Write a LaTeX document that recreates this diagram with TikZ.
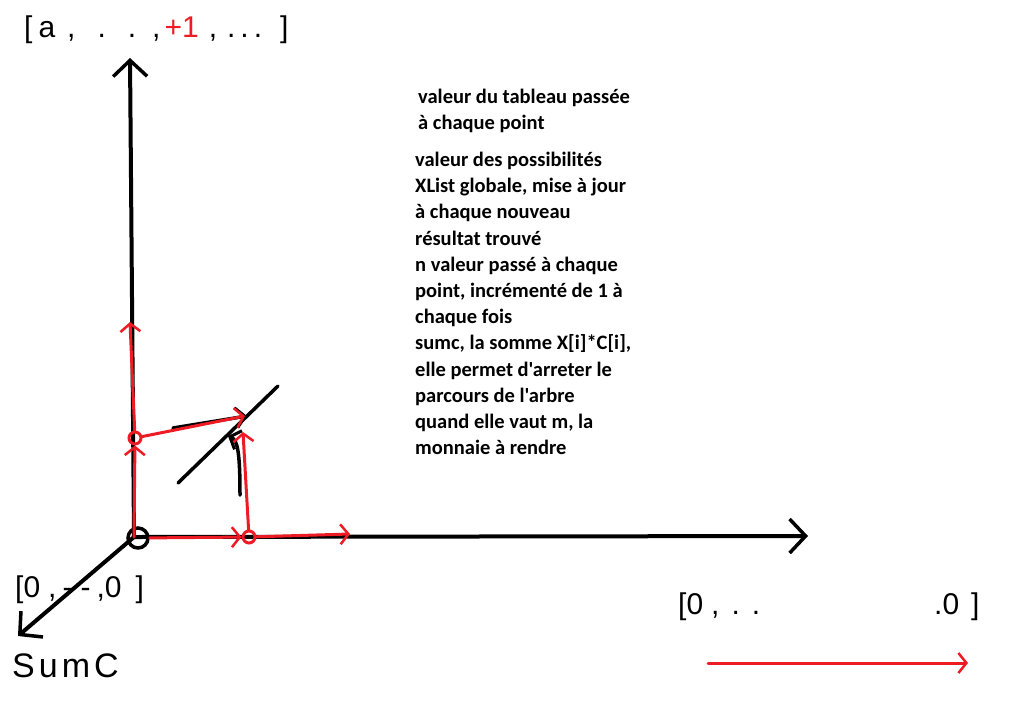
\documentclass[tikz,border=0pt]{standalone}
\usepackage{fontspec}
\setmainfont{Carlito}
\newfontfamily\notefont{Carlito}[Ligatures=TeXOff]
\newfontfamily\handfont{Liberation Sans}[Ligatures=TeXOff]
\usetikzlibrary{arrows.meta}
\definecolor{paintred}{RGB}{237,28,36}
\begin{document}
\begin{tikzpicture}[x=1pt,y=-1pt,
  axis/.style={line width=4pt,line cap=round,-{Straight Barb[length=16pt,width=34pt,line width=3.5pt]}},
  blk/.style={line width=3.5pt,line cap=round},
  blkarrow/.style={blk,-{Straight Barb[length=9pt,width=20pt,line width=3pt]}},
  redline/.style={paintred,line width=3pt,line cap=round},
  redarrow/.style={redline,-{Straight Barb[length=8pt,width=20pt,line width=2.5pt]}},
  redcirc/.style={circle,draw=paintred,line width=3pt,minimum size=12pt,inner sep=0pt},
  note/.style={font=\notefont\bfseries\fontsize{20.5}{26.2}\selectfont,align=left,inner sep=0pt},
  hand/.style={font=\handfont\fontsize{30}{30}\selectfont,inner sep=0pt}]
\useasboundingbox (0,0) rectangle (1011,721);
% axes
\coordinate (O) at (134,537);
\coordinate (Ytop) at (130,58);
\coordinate (Xend) at (808,536);
\coordinate (Zend) at (18,636);
\draw[axis] (O) -- (Ytop);
\draw[axis] (O) -- (Xend);
\draw[axis] (O) -- (Zend);
\node[circle,draw,line width=3.5pt,minimum size=20pt,inner sep=0pt] (orig) at (138,538) {};
% small diagonal and black arrows
\coordinate (d1) at (178,483);
\coordinate (d2) at (278,386);
\draw[blk] (d1) -- (d2);
\coordinate (ba1s) at (173,428);
\coordinate (ba1e) at (247,416);
\draw[blkarrow] (ba1s) -- (ba1e);
\coordinate (ba2s) at (240,495);
\coordinate (ba2e) at (228,436);
\draw[blkarrow] (ba2s) .. controls (240,455) and (238,440) .. (ba2e);
% red path
\node[redcirc] (rc1) at (135,438) {};
\node[redcirc] (rc2) at (249,537) {};
\coordinate (rtop) at (130,322);
\coordinate (rright) at (350,534);
\coordinate (rup) at (243,432);
\coordinate (rdiag) at (245,416);
\draw[redarrow] (O) -- (rc1);
\draw[redarrow] (rc1) -- (rtop);
\draw[redarrow] (rc1) -- (rdiag);
\draw[redarrow] (orig) -- (rc2);
\draw[redarrow] (rc2) -- (rright);
\draw[redarrow] (rc2) -- (rup);
\coordinate (b1) at (708,663);
\coordinate (b2) at (968,663);
\draw[redarrow] (b1) -- (b2);
% handwritten labels
\node[hand,anchor=west] (topl) at (24,30) {[\hspace{6pt}a\hspace{12pt},\hspace{22pt}.\hspace{22pt}.\hspace{16pt},\hspace{4pt}\textcolor{paintred}{+1}\hspace{10pt},\hspace{10pt}.\hspace{5pt}.\hspace{5pt}.\hspace{18pt}]};
\node[hand,anchor=west] (zerol) at (15,590) {[0\hspace{8pt},\hspace{6pt}-\hspace{8pt}-\hspace{6pt},0\hspace{14pt}]};
\node[hand,anchor=west,font=\handfont\fontsize{34}{34}\selectfont] (suml) at (12,666) {S\hspace{4pt}u\hspace{4pt}m\hspace{4pt}C};
\node[hand,anchor=west] (xl) at (678,607) {[0\hspace{8pt},\hspace{12pt}.\hspace{12pt}.\hspace{174pt}.0\hspace{12pt}]};
% notes
\node[note,anchor=north west] (n1) at (418,89) {valeur du tableau passée\\à chaque point};
\node[note,anchor=north west] (n2) at (415,152) {valeur des possibilités\\XList globale, mise à jour\\à chaque nouveau\\résultat trouvé\\n valeur passé à chaque\\point, incrémenté de 1 à\\chaque fois\\sumc, la somme X[i]*C[i],\\elle permet d'arreter le\\parcours de l'arbre\\quand elle vaut m, la\\monnaie à rendre};
\end{tikzpicture}
\end{document}
